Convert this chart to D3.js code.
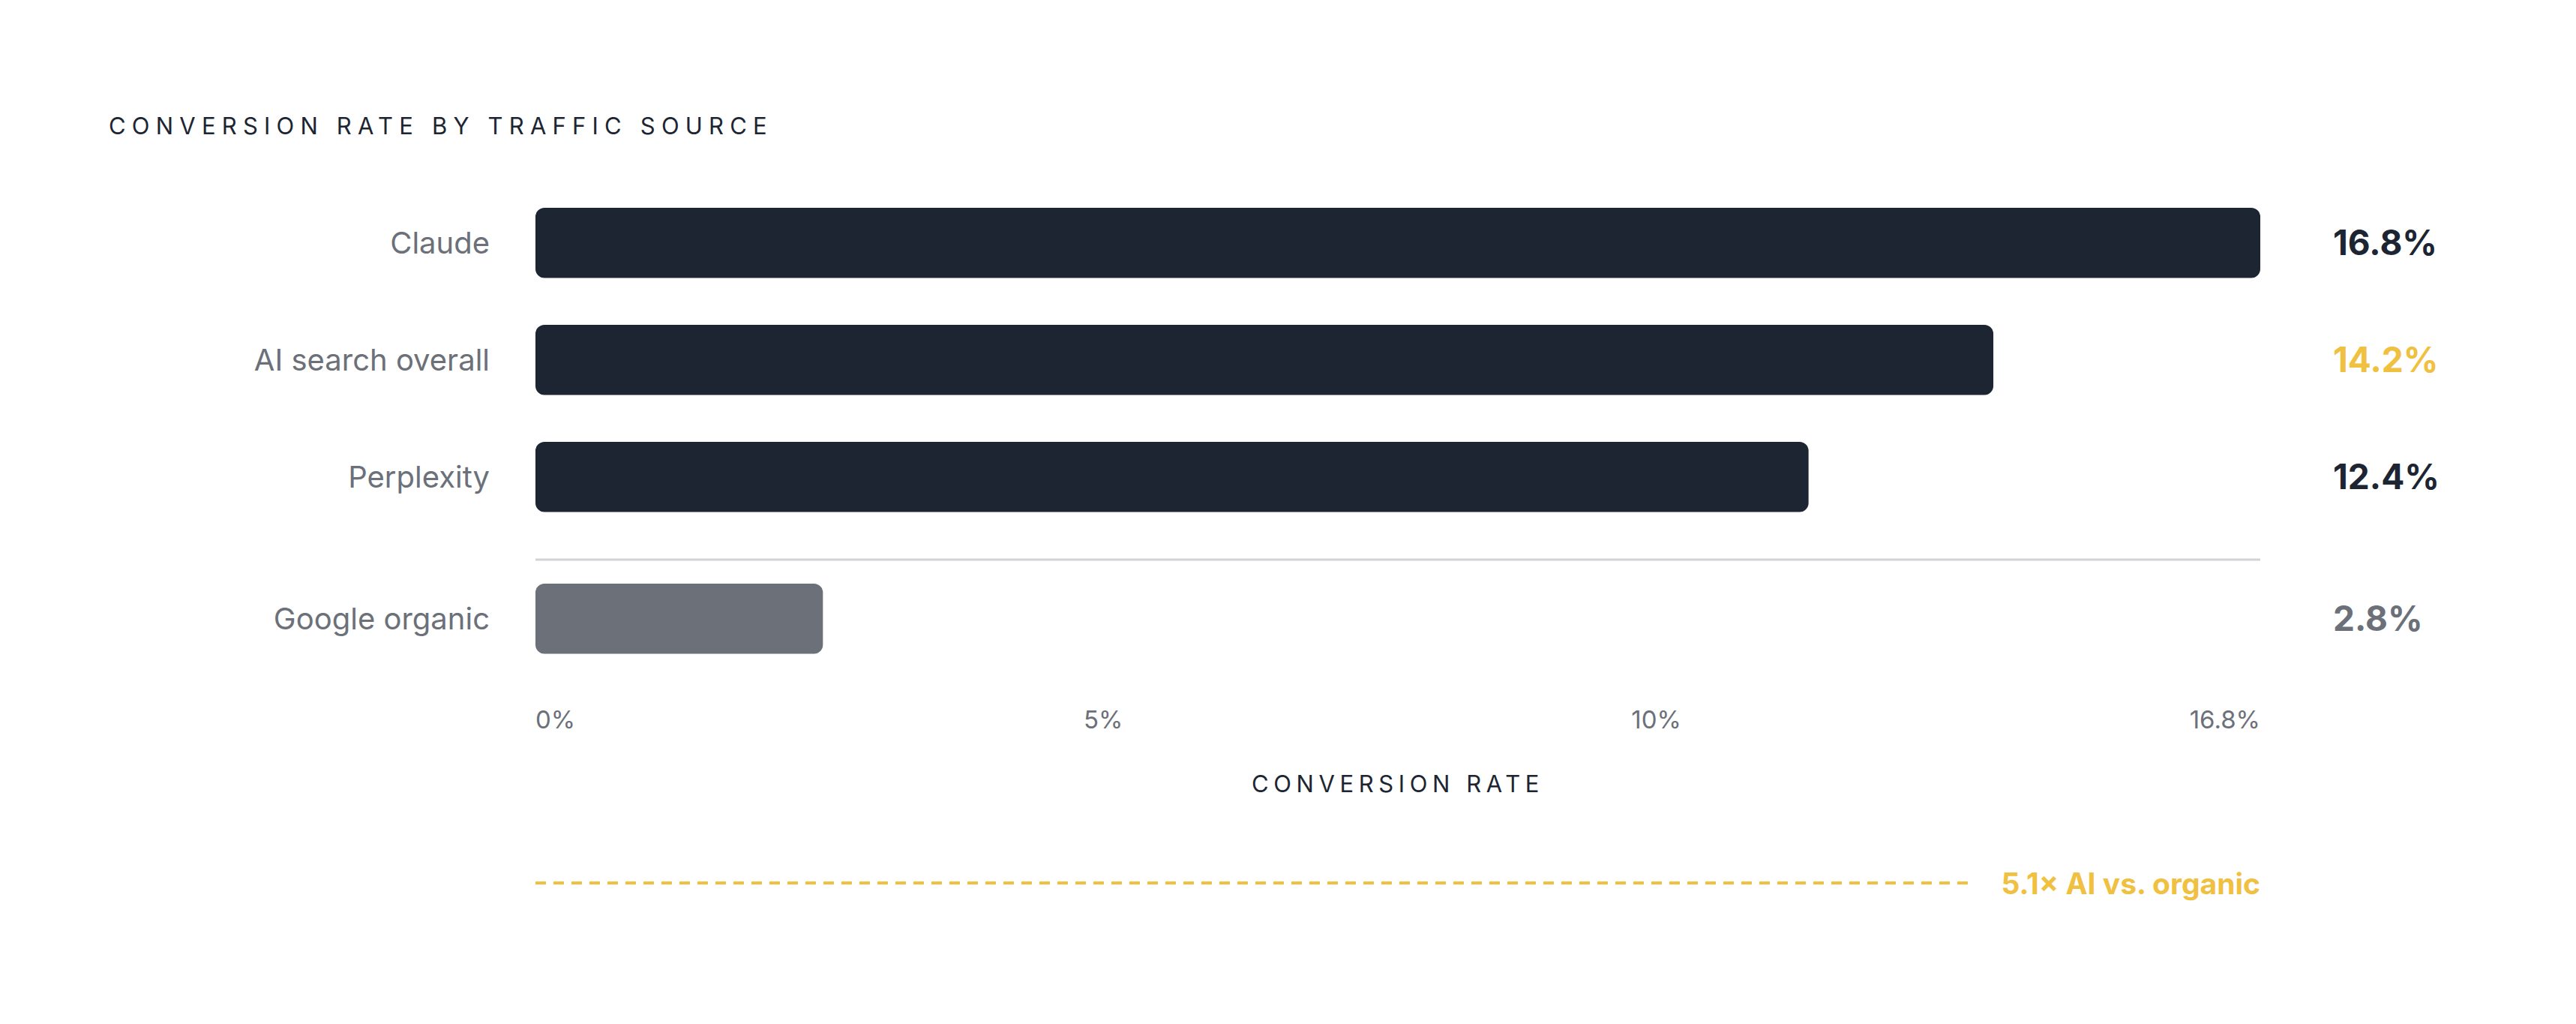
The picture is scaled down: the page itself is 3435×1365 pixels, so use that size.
<!DOCTYPE html>
<html>
<head>
<meta charset="utf-8">
<script src="https://cdn.jsdelivr.net/npm/d3@7/dist/d3.min.js"></script>
<style>
  html, body { margin: 0; padding: 0; background: #ffffff; }
  svg { display: block; }
  text { font-family: Inter, "DejaVu Sans", sans-serif; }
</style>
</head>
<body>
<svg id="chart" width="3435" height="1365"></svg>
<script>
// ---- data ----
const chartTitle = "CONVERSION RATE BY TRAFFIC SOURCE";
const axisTitle = "CONVERSION RATE";
const categories = ["Claude", "AI search overall", "Perplexity", "Google organic"];
const values = [16.8, 14.2, 12.4, 2.8];
const groups = ["ai", "ai", "ai", "organic"];
const valueLabels = ["16.8%", "14.2%", "12.4%", "2.8%"];
const highlighted = ["AI search overall"];
const tickValues = [0, 5, 10, 16.8];
const tickLabels = ["0%", "5%", "10%", "16.8%"];
const multiplierText = "5.1\u00d7 AI vs. organic";

// ---- styles ----
const C = {
  dark: "#1c2531",
  gray: "#6b7079",
  yellow: "#f0c040",
  sep: "#d2d3d7",
  label: "#6b7079"
};

const svg = d3.select("#chart");
const rows = categories.map((c, i) => ({ cat: c, value: values[i], group: groups[i], label: valueLabels[i] }));

const x = d3.scaleLinear().domain([0, d3.max(values)]).range([714, 3014]);
const y = d3.scaleBand().domain(categories).range([245.8, 245.8 + 4 * 156]).paddingInner(0.4).paddingOuter(0.2);
const groupGap = 33;
const yPos = d => y(d.cat) + (d.group === "organic" ? groupGap : 0);

// title
svg.append("text")
  .attr("x", 145).attr("y", 179)
  .attr("fill", C.dark)
  .style("font-size", "31px")
  .style("letter-spacing", "8.2px")
  .text(chartTitle);

// bars
svg.selectAll("rect.bar").data(rows).join("rect")
  .attr("class", "bar")
  .attr("x", x(0))
  .attr("y", d => yPos(d))
  .attr("width", d => x(d.value) - x(0))
  .attr("height", y.bandwidth())
  .attr("rx", 12).attr("ry", 12)
  .attr("fill", d => d.group === "organic" ? C.gray : C.dark);

// separator
const firstOrganic = rows.find(d => d.group === "organic");
svg.append("line")
  .attr("x1", x(0)).attr("x2", x(d3.max(values)))
  .attr("y1", yPos(firstOrganic) - 32).attr("y2", yPos(firstOrganic) - 32)
  .attr("stroke", C.sep).attr("stroke-width", 3);

// category labels
svg.selectAll("text.cat").data(rows).join("text")
  .attr("class", "cat")
  .attr("x", 653)
  .attr("y", d => yPos(d) + y.bandwidth() / 2)
  .attr("dy", "0.36em")
  .attr("text-anchor", "end")
  .attr("fill", C.label)
  .style("font-size", "40px")
  .text(d => d.cat);

// value labels
svg.selectAll("text.val").data(rows).join("text")
  .attr("class", "val")
  .attr("x", 3111)
  .attr("y", d => yPos(d) + y.bandwidth() / 2)
  .attr("dy", "0.36em")
  .attr("fill", d => highlighted.includes(d.cat) ? C.yellow : (d.group === "organic" ? C.gray : C.dark))
  .style("font-size", "46px")
  .style("font-weight", 700)
  .text(d => d.label);

// tick labels (spread edge to edge)
const ticksG = svg.append("g");
const tickTexts = ticksG.selectAll("text").data(tickValues).join("text")
  .attr("y", 971)
  .attr("fill", C.label)
  .style("font-size", "33px")
  .text((d, i) => tickLabels[i]);
const widths = [];
tickTexts.each(function () { widths.push(this.getComputedTextLength()); });
const span = x.range()[1] - x.range()[0];
const gap = (span - d3.sum(widths)) / (tickValues.length - 1);
let cursor = x.range()[0];
tickTexts.attr("x", (d, i) => { const p = cursor; cursor += widths[i] + gap; return p; });

// axis title
svg.append("text")
  .attr("x", (x.range()[0] + x.range()[1]) / 2)
  .attr("y", 1056)
  .attr("text-anchor", "middle")
  .attr("fill", C.dark)
  .style("font-size", "31px")
  .style("letter-spacing", "6.6px")
  .text(axisTitle);

// multiplier annotation
const mt = svg.append("text")
  .attr("x", x(d3.max(values)))
  .attr("y", 1192)
  .attr("text-anchor", "end")
  .attr("fill", C.yellow)
  .style("font-size", "39px")
  .style("font-weight", 700)
  .text(multiplierText);
const mtw = mt.node().getComputedTextLength();
svg.append("line")
  .attr("x1", x(0)).attr("x2", x(d3.max(values)) - mtw - 41)
  .attr("y1", 1177).attr("y2", 1177)
  .attr("stroke", C.yellow).attr("stroke-width", 4)
  .attr("stroke-dasharray", "14 10");
</script>
</body>
</html>
